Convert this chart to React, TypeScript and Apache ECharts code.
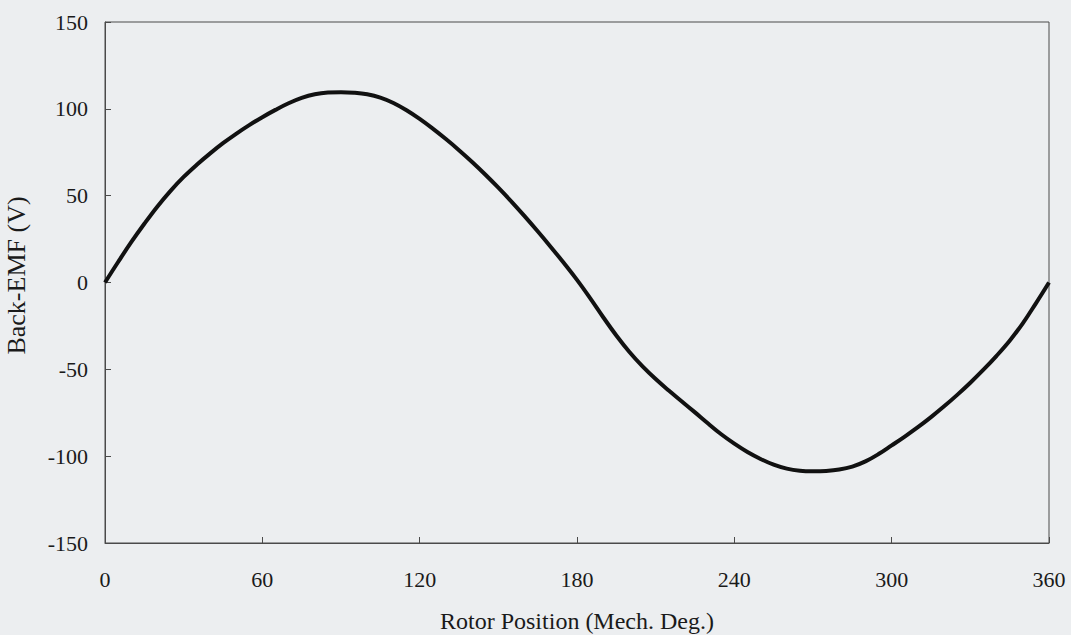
import React, { useEffect, useRef } from "react";
import * as echarts from "echarts";

const degrees = [
  0, 5, 10, 15, 20, 25, 30, 35, 40, 45, 50, 55, 60, 65, 70, 75, 80, 85, 90, 95,
  100, 105, 110, 115, 120, 125, 130, 135, 140, 145, 150, 155, 160, 165, 170, 175,
  180, 185, 190, 195, 200, 205, 210, 215, 220, 225, 230, 235, 240, 245, 250, 255,
  260, 265, 270, 275, 280, 285, 290, 295, 300, 305, 310, 315, 320, 325, 330, 335,
  340, 345, 350, 355, 360,
];
const backEmf = [
  0, 11.8, 23.2, 33.8, 43.8, 52.8, 60.8, 67.8, 74.2, 80.2, 85.6, 90.6, 95.2, 99.4,
  103.2, 106.3, 108.4, 109.4, 109.6, 109.3, 108.4, 106.5, 103.4, 99.2, 94.2, 88.6,
  82.6, 76.2, 69.4, 62.2, 54.6, 46.6, 38.2, 29.5, 20.5, 11.2, 1.5, -9, -20, -30.5,
  -40, -48.3, -55.6, -62.2, -68.5, -74.8, -81.2, -87.4, -92.8, -97.6, -101.6, -104.9,
  -107.2, -108.4, -108.7, -108.5, -107.7, -106, -103, -98.8, -93.8, -88.7, -83.3,
  -77.5, -71.3, -64.7, -57.7, -50.2, -42.2, -33.5, -23.5, -12, 0,
];
const xTicks = { min: 0, max: 360, interval: 60 };
const yTicks = { min: -150, max: 150, interval: 50 };

const FONT = "Liberation Serif";
const TEXT = "#1a1a1a";
const AXIS = "#4a4a4a";

export default function App() {
  const ref = useRef<HTMLDivElement>(null);
  useEffect(() => {
    if (!ref.current) return;
    const chart = echarts.init(ref.current, null, { renderer: "svg" });
    const axisLine = { show: true, onZero: false, lineStyle: { color: AXIS, width: 1 } };
    const axisTick = { show: true, inside: true, length: 6, lineStyle: { color: AXIS } };
    chart.setOption({
      animation: false,
      backgroundColor: "#eceef0",
      textStyle: { fontFamily: FONT },
      grid: {
        left: 105,
        right: 22,
        top: 22,
        bottom: 92,
        show: true,
        borderColor: AXIS,
        borderWidth: 1,
        outerBoundsMode: "none",
      },
      xAxis: {
        type: "value",
        min: xTicks.min,
        max: xTicks.max,
        interval: xTicks.interval,
        name: "Rotor Position (Mech. Deg.)",
        nameLocation: "middle",
        nameGap: 66,
        nameTextStyle: { fontFamily: FONT, fontSize: 24, color: TEXT },
        axisLine,
        axisTick,
        axisLabel: { fontFamily: FONT, fontSize: 22, color: TEXT, margin: 25 },
        splitLine: { show: false },
      },
      yAxis: {
        type: "value",
        min: yTicks.min,
        max: yTicks.max,
        interval: yTicks.interval,
        name: "Back-EMF (V)",
        nameLocation: "middle",
        nameGap: 76,
        nameTextStyle: {
          fontFamily: FONT,
          fontSize: 26,
          color: TEXT,
          padding: [0, 0, 0, 14],
        },
        axisLine,
        axisTick,
        axisLabel: { fontFamily: FONT, fontSize: 22, color: TEXT, margin: 17 },
        splitLine: { show: false },
      },
      series: [
        {
          type: "line",
          data: degrees.map((d, i) => [d, backEmf[i]]),
          showSymbol: false,
          smooth: 0.4,
          lineStyle: { color: "#111111", width: 4 },
        },
      ],
    });
    return () => chart.dispose();
  }, []);
  return (
    <div
      ref={ref}
      style={{ position: "fixed", left: 0, top: 0, width: 1071, height: 635 }}
    />
  );
}
